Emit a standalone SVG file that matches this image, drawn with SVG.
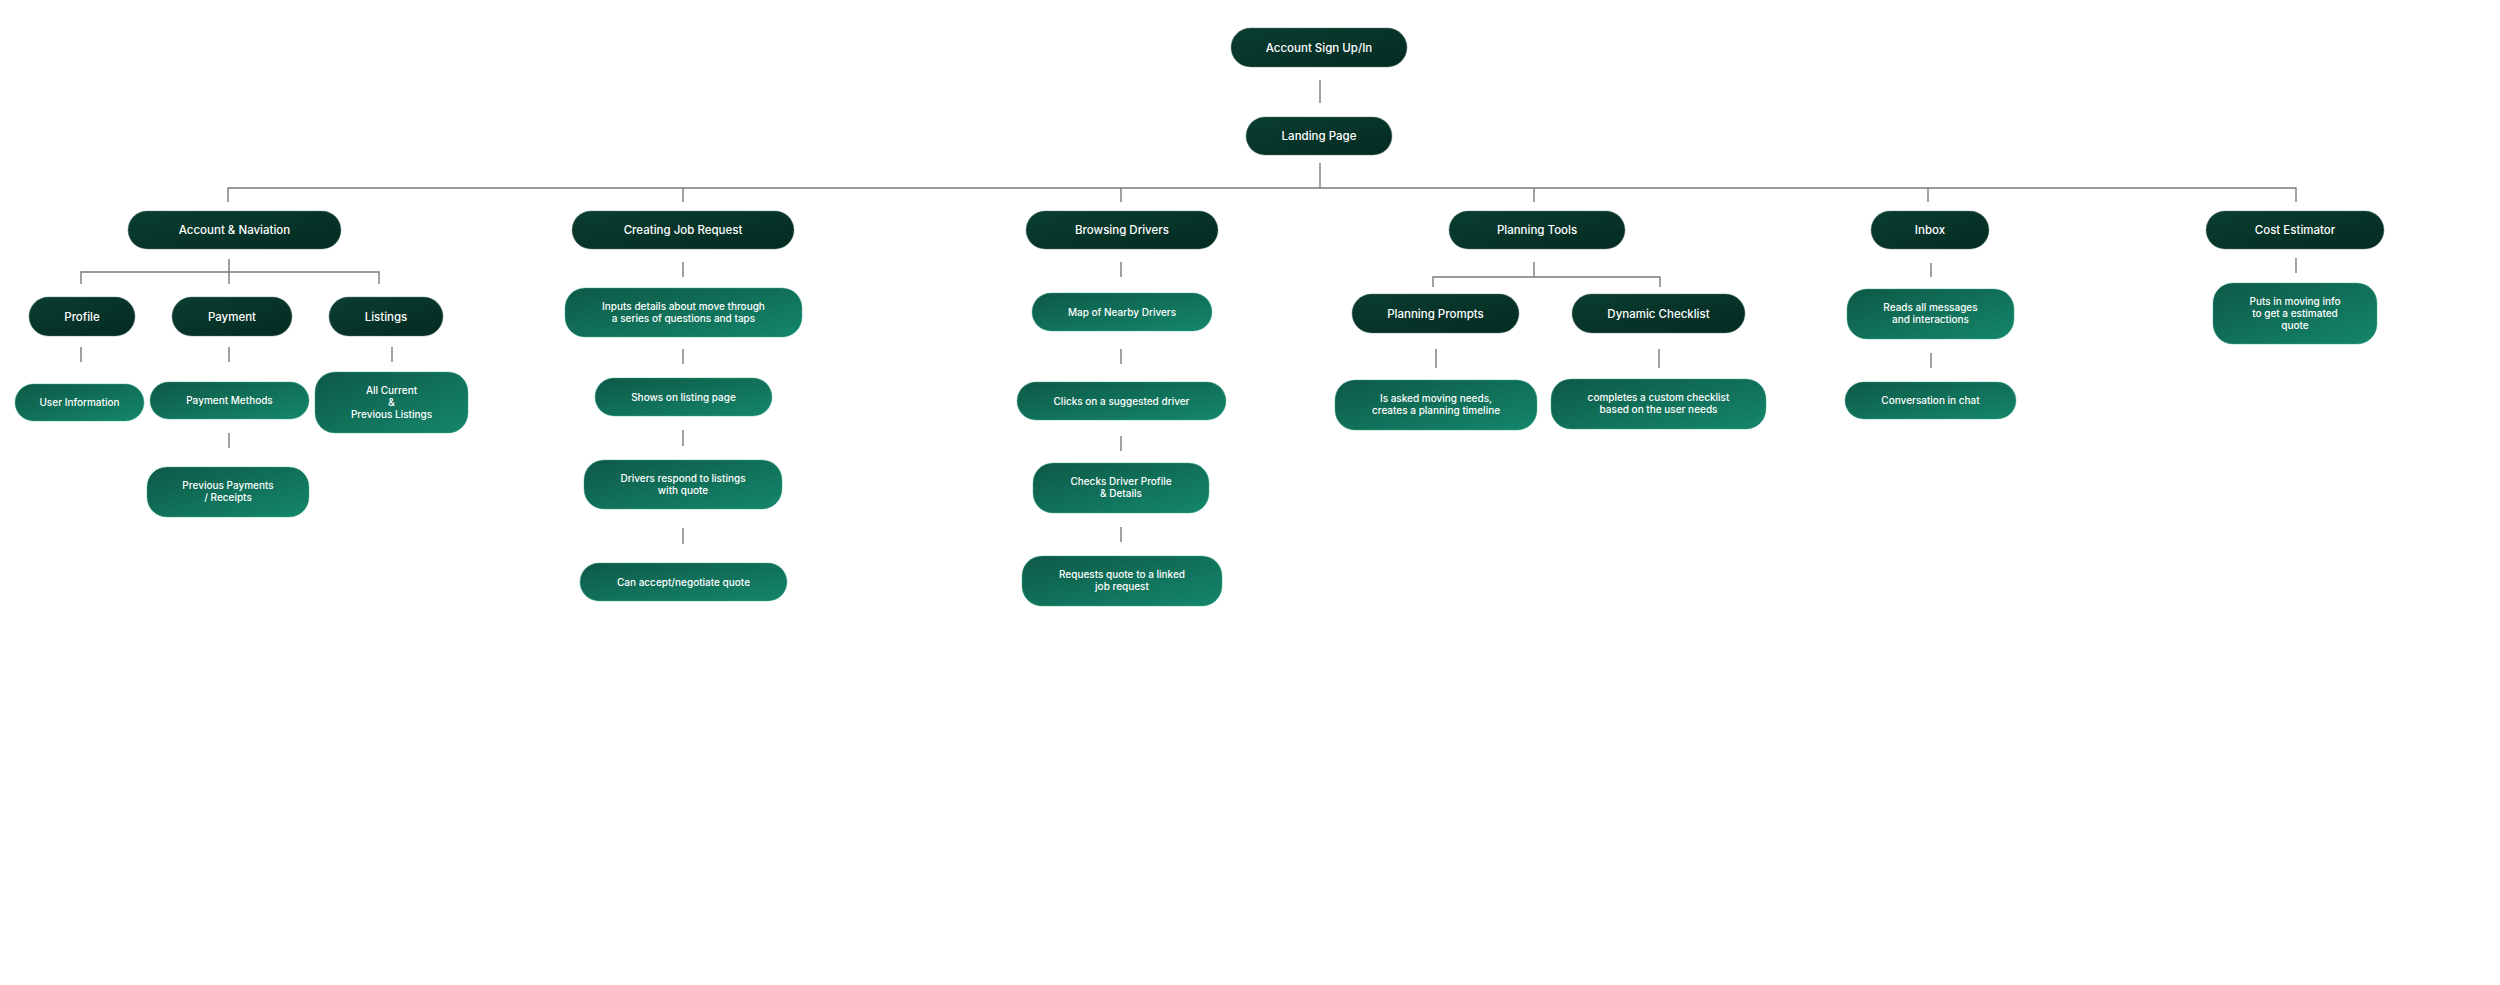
<svg xmlns="http://www.w3.org/2000/svg" width="2500" height="985" viewBox="0 0 2500 985">
<defs>
<linearGradient id="gDark" x1="0" y1="0" x2="1" y2="1">
<stop offset="0" stop-color="#0a3d31"/>
<stop offset="1" stop-color="#042b22"/>
</linearGradient>
<linearGradient id="gLight" x1="0" y1="0" x2="1" y2="1">
<stop offset="0" stop-color="#0d5947"/>
<stop offset="1" stop-color="#14876b"/>
</linearGradient>
<style>
.dark{fill:url(#gDark);stroke:#5f7f77;stroke-opacity:0.45;stroke-width:1}
.light{fill:url(#gLight);stroke:#3fa88a;stroke-opacity:0.45;stroke-width:1}
.tD{font-family:Inter,"Liberation Sans",sans-serif;font-size:11.5px;font-weight:500;fill:#ffffff;text-anchor:middle}
.tL{font-family:Inter,"Liberation Sans",sans-serif;font-size:10px;font-weight:500;fill:#ffffff;text-anchor:middle}
.ln{stroke:#7a7a7a;stroke-width:1.4;fill:none}
</style>
</defs>
<rect x="0" y="0" width="2500" height="985" fill="#ffffff"/>

<g id="connectors">
<path class="ln" d="M1320 80V103"/>
<path class="ln" d="M1320 163V188"/>
<path class="ln" d="M228 202V188H2296V202"/>
<path class="ln" d="M683 188V202M1121 188V202M1534 188V202M1928 188V202"/>
<path class="ln" d="M229 259V272M81 284V272H379V284M229 272V284"/>
<path class="ln" d="M81 347V362M229 347V362M392 347V362M229 433V448"/>
<path class="ln" d="M683 262V277M683 349V364M683 430V446M683 528V544"/>
<path class="ln" d="M1121 262V277M1121 349V364M1121 436V451M1121 527V542"/>
<path class="ln" d="M1534 262V277M1433 287V277H1660V287M1436 349V368M1659 349V368"/>
<path class="ln" d="M1931 263V277M1931 353V368"/>
<path class="ln" d="M2296 258V273"/>
</g>

<g id="n-signup"><rect class="dark" x="1231" y="28" width="176" height="39" rx="19.5"/><text class="tD" x="1319" y="51.5">Account Sign Up/In</text></g>
<g id="n-landing"><rect class="dark" x="1246" y="117" width="146" height="38" rx="19"/><text class="tD" x="1319" y="140">Landing Page</text></g>

<g id="n-account"><rect class="dark" x="128" y="211" width="213" height="38" rx="19"/><text class="tD" x="234.5" y="234">Account &amp; Naviation</text></g>
<g id="n-job"><rect class="dark" x="572" y="211" width="222" height="38" rx="19"/><text class="tD" x="683" y="234">Creating Job Request</text></g>
<g id="n-browse"><rect class="dark" x="1026" y="211" width="192" height="38" rx="19"/><text class="tD" x="1122" y="234">Browsing Drivers</text></g>
<g id="n-planning"><rect class="dark" x="1449" y="211" width="176" height="38" rx="19"/><text class="tD" x="1537" y="234">Planning Tools</text></g>
<g id="n-inbox"><rect class="dark" x="1871" y="211" width="118" height="38" rx="19"/><text class="tD" x="1930" y="234">Inbox</text></g>
<g id="n-cost"><rect class="dark" x="2206" y="211" width="178" height="38" rx="19"/><text class="tD" x="2295" y="234">Cost Estimator</text></g>

<g id="n-profile"><rect class="dark" x="29" y="297" width="106" height="39" rx="19.5"/><text class="tD" x="82" y="320.5">Profile</text></g>
<g id="n-payment"><rect class="dark" x="172" y="297" width="120" height="39" rx="19.5"/><text class="tD" x="232" y="320.5">Payment</text></g>
<g id="n-listings"><rect class="dark" x="329" y="297" width="114" height="39" rx="19.5"/><text class="tD" x="386" y="320.5">Listings</text></g>
<g id="n-prompts"><rect class="dark" x="1352" y="294" width="167" height="39" rx="19.5"/><text class="tD" x="1435.5" y="317.5">Planning Prompts</text></g>
<g id="n-checklist"><rect class="dark" x="1572" y="294" width="173" height="39" rx="19.5"/><text class="tD" x="1658.5" y="317.5">Dynamic Checklist</text></g>

<g id="n-userinfo"><rect class="light" x="15" y="384" width="129" height="37" rx="18.5"/><text class="tL" x="79.5" y="406">User Information</text></g>
<g id="n-paymethods"><rect class="light" x="150" y="382" width="159" height="37" rx="18.5"/><text class="tL" x="229.5" y="404">Payment Methods</text></g>
<g id="n-listall"><rect class="light" x="315" y="372" width="153" height="61" rx="20"/><text class="tL" x="391.5" y="394">All Current</text><text class="tL" x="391.5" y="406">&amp;</text><text class="tL" x="391.5" y="418">Previous Listings</text></g>
<g id="n-prevpay"><rect class="light" x="147" y="467" width="162" height="50" rx="20"/><text class="tL" x="228" y="489">Previous Payments</text><text class="tL" x="228" y="501">/ Receipts</text></g>

<g id="n-inputs"><rect class="light" x="565" y="288" width="237" height="49" rx="20"/><text class="tL" x="683.5" y="310">Inputs details about move through</text><text class="tL" x="683.5" y="322">a series of questions and taps</text></g>
<g id="n-shows"><rect class="light" x="595" y="378" width="177" height="38" rx="19"/><text class="tL" x="683.5" y="400.5">Shows on listing page</text></g>
<g id="n-drivers"><rect class="light" x="584" y="460" width="198" height="49" rx="20"/><text class="tL" x="683" y="482">Drivers respond to listings</text><text class="tL" x="683" y="494">with quote</text></g>
<g id="n-accept"><rect class="light" x="580" y="563" width="207" height="38" rx="19"/><text class="tL" x="683.5" y="585.5">Can accept/negotiate quote</text></g>

<g id="n-map"><rect class="light" x="1032" y="293" width="180" height="38" rx="19"/><text class="tL" x="1122" y="315.5">Map of Nearby Drivers</text></g>
<g id="n-clicks"><rect class="light" x="1017" y="382" width="209" height="38" rx="19"/><text class="tL" x="1121.5" y="404.5">Clicks on a suggested driver</text></g>
<g id="n-checks"><rect class="light" x="1033" y="463" width="176" height="50" rx="20"/><text class="tL" x="1121" y="485">Checks Driver Profile</text><text class="tL" x="1121" y="497">&amp; Details</text></g>
<g id="n-requests"><rect class="light" x="1022" y="556" width="200" height="50" rx="20"/><text class="tL" x="1122" y="578">Requests quote to a linked</text><text class="tL" x="1122" y="590">job request</text></g>

<g id="n-asked"><rect class="light" x="1335" y="380" width="202" height="50" rx="20"/><text class="tL" x="1436" y="402">Is asked moving needs,</text><text class="tL" x="1436" y="414">creates a planning timeline</text></g>
<g id="n-completes"><rect class="light" x="1551" y="379" width="215" height="50" rx="20"/><text class="tL" x="1658.5" y="401">completes a custom checklist</text><text class="tL" x="1658.5" y="413">based on the user needs</text></g>

<g id="n-reads"><rect class="light" x="1847" y="289" width="167" height="50" rx="20"/><text class="tL" x="1930.5" y="311">Reads all messages</text><text class="tL" x="1930.5" y="323">and interactions</text></g>
<g id="n-convo"><rect class="light" x="1845" y="382" width="171" height="37" rx="18.5"/><text class="tL" x="1930.5" y="404">Conversation in chat</text></g>

<g id="n-puts"><rect class="light" x="2213" y="283" width="164" height="61" rx="20"/><text class="tL" x="2295" y="305">Puts in moving info</text><text class="tL" x="2295" y="317">to get a estimated</text><text class="tL" x="2295" y="329">quote</text></g>
</svg>
